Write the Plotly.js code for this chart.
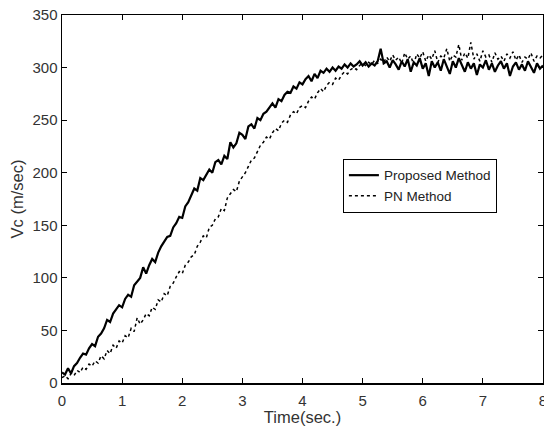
<!DOCTYPE html>
<html>
<head>
<meta charset="utf-8">
<script src="https://cdn.plot.ly/plotly-3.0.1.min.js"></script>
<style>html,body{margin:0;padding:0;background:#fff;}#chart{width:544px;height:432px;}</style>
</head>
<body>
<div id="chart"></div>
<script>
var time = [0,0.05,0.1,0.15,0.2,0.25,0.3,0.35,0.4,0.45,0.5,0.55,0.6,0.65,0.7,0.75,0.8,0.85,0.9,0.95,
1,1.05,1.1,1.15,1.2,1.25,1.3,1.35,1.4,1.45,1.5,1.55,1.6,1.65,1.7,1.75,1.8,1.85,1.9,1.95,
2,2.05,2.1,2.15,2.2,2.25,2.3,2.35,2.4,2.45,2.5,2.55,2.6,2.65,2.7,2.75,2.8,2.85,2.9,2.95,
3,3.05,3.1,3.15,3.2,3.25,3.3,3.35,3.4,3.45,3.5,3.55,3.6,3.65,3.7,3.75,3.8,3.85,3.9,3.95,
4,4.05,4.1,4.15,4.2,4.25,4.3,4.35,4.4,4.45,4.5,4.55,4.6,4.65,4.7,4.75,4.8,4.85,4.9,4.95,
5,5.05,5.1,5.15,5.2,5.25,5.3,5.35,5.4,5.45,5.5,5.55,5.6,5.65,5.7,5.75,5.8,5.85,5.9,5.95,
6,6.05,6.1,6.15,6.2,6.25,6.3,6.35,6.4,6.45,6.5,6.55,6.6,6.65,6.7,6.75,6.8,6.85,6.9,6.95,
7,7.05,7.1,7.15,7.2,7.25,7.3,7.35,7.4,7.45,7.5,7.55,7.6,7.65,7.7,7.75,7.8,7.85,7.9,7.95,8];

var proposed = [10,8,14,9,16,19,24,28,27,33,37,35,44,47,52,60,58,66,70,74,
72,80,84,82,93,96,100,110,104,112,118,115,124,130,134,139,140,148,152,158,
157,168,172,179,185,183,195,193,198,203,200,210,212,208,216,213,229,224,228,238,
236,232,244,246,242,252,250,256,258,262,266,262,270,268,274,277,276,282,280,286,
284,289,292,287,294,290,297,295,299,296,300,297,301,299,303,300,304,301,303,306,
302,305,301,304,302,306,318,304,306,300,307,303,298,306,301,308,296,305,302,309,
299,304,292,306,300,305,297,308,301,294,306,300,309,302,296,305,299,304,293,303,
300,307,298,304,296,302,306,299,304,292,301,305,298,303,297,306,300,295,304,299,302];

var pn = [5,7,4,9,7,12,10,15,13,18,16,21,19,26,23,31,28,36,33,40,
38,45,43,52,49,62,56,60,66,64,72,70,79,77,85,83,92,95,101,106,
104,112,115,120,122,130,134,140,138,148,150,156,158,166,164,176,180,184,182,192,
196,200,206,212,214,220,226,229,234,232,238,242,240,247,250,248,255,258,256,262,
264,262,268,272,270,276,280,277,283,286,284,290,288,293,296,294,298,300,298,302,
304,302,305,303,307,304,308,305,310,306,312,307,310,304,314,308,311,303,313,309,
315,306,312,308,316,305,311,309,318,306,312,310,322,307,314,309,324,308,313,306,
316,310,312,305,314,308,311,306,313,309,315,307,312,305,310,308,314,306,311,309,312];

var seriesNames = ["Proposed Method", "PN Method"];
var xTicks = [0,1,2,3,4,5,6,7,8];
var yTicks = [0,50,100,150,200,250,300,350];

var font = "Liberation Sans, Arial, sans-serif";
var traces = [
  {x: time, y: proposed, type: "scatter", mode: "lines", name: seriesNames[0],
   line: {color: "#000", width: 2.2}},
  {x: time, y: pn, type: "scatter", mode: "lines", name: seriesNames[1],
   line: {color: "#000", width: 1.5, dash: "dot"}}
];

var axisCommon = {
  showgrid: false, zeroline: false, showline: true, linecolor: "#000", linewidth: 1.5,
  mirror: "ticks", ticks: "inside", ticklen: 5, tickwidth: 1.2, tickcolor: "#000",
  ticklabeloverflow: "allow",
  tickfont: {family: font, size: 15, color: "#333"}
};

var layout = {
  width: 544, height: 432,
  margin: {l: 62, r: 1, t: 15, b: 49},
  paper_bgcolor: "#fff", plot_bgcolor: "#fff",
  showlegend: true,
  legend: {x: 0.584, y: 0.609, xanchor: "left", yanchor: "top",
    bordercolor: "#000", borderwidth: 1, bgcolor: "#fff",
    font: {family: font, size: 13.5, color: "#222"}, itemwidth: 30, tracegroupgap: 0},
  xaxis: Object.assign({}, axisCommon, {range: [0, 8], tickvals: xTicks, ticklabelstandoff: 3,
    title: {text: "Time(sec.)", font: {family: font, size: 16.5, color: "#333"}, standoff: 0}}),
  yaxis: Object.assign({}, axisCommon, {range: [0, 350], tickvals: yTicks,
    title: {text: "Vc (m/sec)", font: {family: font, size: 16.5, color: "#333"}, standoff: 4}})
};

Plotly.newPlot("chart", traces, layout, {displayModeBar: false, staticPlot: true});
</script>
</body>
</html>
